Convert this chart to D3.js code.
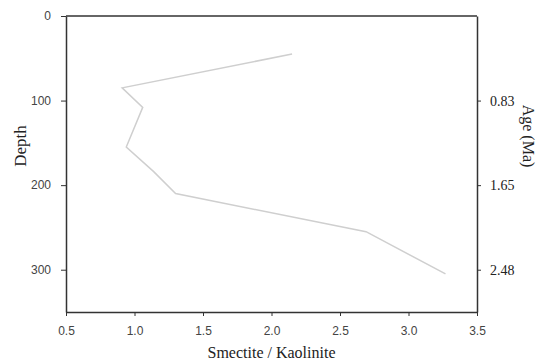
<!DOCTYPE html>
<html>
<head>
<meta charset="utf-8">
<script src="https://cdn.jsdelivr.net/npm/d3@7"></script>
<style>
  body { margin: 0; background: #fff; }
</style>
</head>
<body>
<svg id="chart" width="537" height="364"></svg>
<script>
// Smectite / Kaolinite ratio vs depth
const ratio = [2.15, 0.91, 1.06, 0.94, 1.14, 1.30, 2.69, 3.27];
const depth = [45, 85, 108, 155, 184, 210, 255, 305];
const xTicks = [0.5, 1.0, 1.5, 2.0, 2.5, 3.0, 3.5];
const depthTicks = [0, 100, 200, 300];
const ageDepths = [100, 200, 300];
const ageLabels = ['0.83', '1.65', '2.48'];

const svg = d3.select('#chart');
const margin = { top: 16, right: 60, bottom: 52, left: 66 };
const innerWidth = 477 - margin.left;
const innerHeight = 312 - margin.top;

const x = d3.scaleLinear().domain([0.5, 3.5]).range([0, innerWidth]);
const y = d3.scaleLinear().domain([0, 350]).range([0, innerHeight]);

const g = svg.append('g').attr('transform', `translate(${margin.left},${margin.top})`);

const axisColor = '#333';
const sans = 'Liberation Sans, Arial, sans-serif';
const serif = 'Liberation Serif, Times New Roman, serif';

// bottom axis
const xAxis = g.append('g')
  .attr('transform', `translate(0,${innerHeight})`)
  .call(d3.axisBottom(x).tickValues(xTicks).tickFormat(d3.format('.1f'))
    .tickSizeInner(4).tickSizeOuter(0).tickPadding(10));

// left axis
const yAxis = g.append('g')
  .call(d3.axisLeft(y).tickValues(depthTicks).tickSizeInner(5).tickSizeOuter(0).tickPadding(10));

[xAxis, yAxis].forEach(a => {
  a.select('.domain').attr('stroke', axisColor).attr('stroke-width', 1.5);
  a.selectAll('.tick line').attr('stroke', axisColor).attr('stroke-width', 1);
  a.selectAll('.tick text')
    .attr('fill', '#444')
    .style('font-family', sans)
    .style('font-size', '12px');
});

// right axis (age)
const ageAxis = g.append('g')
  .attr('transform', `translate(${innerWidth},0)`)
  .call(d3.axisRight(y).tickValues(ageDepths).tickFormat((d, i) => ageLabels[i])
    .tickSizeInner(4).tickSizeOuter(0).tickPadding(9));
ageAxis.select('.domain').attr('stroke', axisColor).attr('stroke-width', 1.5);
ageAxis.selectAll('.tick line').attr('stroke', axisColor);
ageAxis.selectAll('.tick text')
  .attr('fill', '#222')
  .style('font-family', serif)
  .style('font-size', '14px');

// top frame line
g.append('line')
  .attr('x1', 0).attr('x2', innerWidth)
  .attr('y1', 0).attr('y2', 0)
  .attr('stroke', axisColor).attr('stroke-width', 1.5);

// data line
const pts = ratio.map((r, i) => ({ r, d: depth[i] }));
g.append('path')
  .datum(pts)
  .attr('fill', 'none')
  .attr('stroke', '#cfcfcf')
  .attr('stroke-width', 1.5)
  .attr('d', d3.line().x(p => x(p.r)).y(p => y(p.d)));

// axis titles
svg.append('text')
  .attr('x', margin.left + innerWidth / 2)
  .attr('y', 358)
  .attr('text-anchor', 'middle')
  .attr('fill', '#222')
  .style('font-family', serif)
  .style('font-size', '16px')
  .text('Smectite / Kaolinite');

svg.append('text')
  .attr('transform', 'translate(26,146) rotate(-90)')
  .attr('text-anchor', 'middle')
  .attr('fill', '#222')
  .style('font-family', serif)
  .style('font-size', '17px')
  .text('Depth');

svg.append('text')
  .attr('transform', 'translate(523,136) rotate(90)')
  .attr('text-anchor', 'middle')
  .attr('fill', '#222')
  .style('font-family', serif)
  .style('font-size', '16px')
  .text('Age (Ma)');
</script>
</body>
</html>
